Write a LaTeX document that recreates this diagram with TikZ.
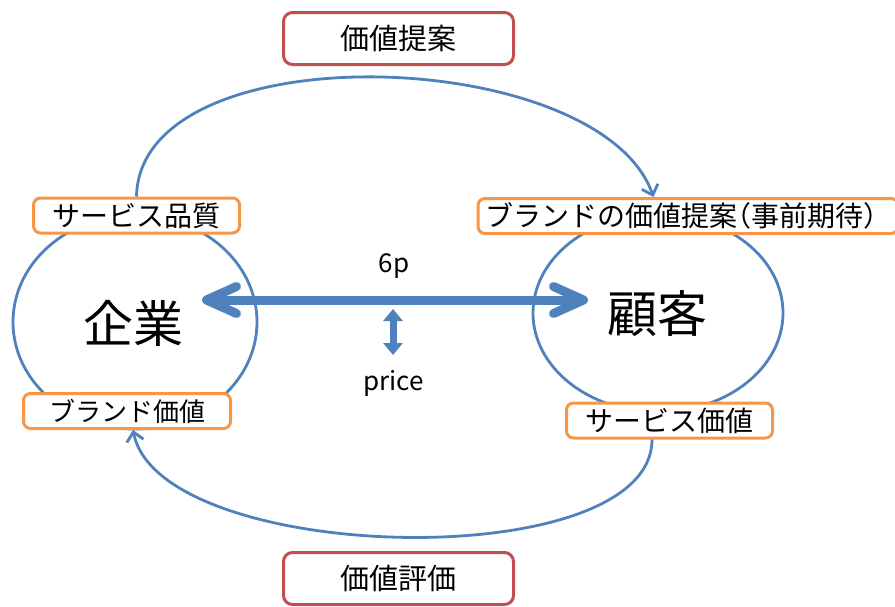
\documentclass[tikz,border=0pt]{standalone}
\usepackage{fontspec}
\setmainfont{Noto Sans CJK JP}
\usetikzlibrary{shapes.geometric,arrows.meta,calc}
\definecolor{cblue}{HTML}{4F81BD}
\definecolor{corange}{HTML}{F79646}
\definecolor{cred}{HTML}{C0504D}
\begin{document}
\begin{tikzpicture}[x=1pt,y=-1pt,
  obox/.style={draw=corange, line width=3pt, rounded corners=7pt, fill=white,
    inner sep=0pt, font=\fontsize{28}{32}\selectfont, minimum height=35pt},
  rbox/.style={draw=cred, line width=3pt, rounded corners=9pt, fill=white,
    inner sep=0pt, font=\fontsize{29}{33}\selectfont, minimum width=230pt, minimum height=52pt},
  party/.style={draw=cblue, line width=2.8pt, ellipse, inner sep=0pt,
    font=\fontsize{50}{56}\selectfont},
  flow/.style={draw=cblue, line width=2.8pt, -{Straight Barb[length=9pt,width=17pt]}},
  bigarrow/.style={draw=cblue, line width=9pt,
    {Straight Barb[length=30pt,width=27pt,line cap=round,line join=round]}-{Straight Barb[length=30pt,width=27pt,line cap=round,line join=round]}},
  smallarrow/.style={draw=cblue, line width=7pt,
    {Triangle[length=12pt,width=19pt]}-{Triangle[length=12pt,width=19pt]}},
  lbl/.style={font=\fontsize{26}{30}\selectfont, inner sep=0pt}
]
\useasboundingbox (0,0) rectangle (895,606);

% parties
\node[party, minimum width=244pt, minimum height=214pt] (L) at (135,322) {};
\node[party, minimum width=250pt, minimum height=198pt] (R) at (658,313) {};
\node[font=\fontsize{50}{56}\selectfont, inner sep=0pt] (Lt) at (133,323) {企業};
\node[font=\fontsize{50}{56}\selectfont, inner sep=0pt] (Rt) at (657,314) {顧客};

% boxes
\node[obox, minimum width=206pt] (A) at (136.5,215.5) {サービス品質};
\node[obox, minimum width=207pt, font=\fontsize{26}{30}\selectfont] (B) at (127,411) {ブランド価値};
\node[obox, minimum width=420pt] (C) at (688,216) {ブランドの価値提案\hspace{-14pt}（事前期待）\hspace{-14pt}};
\node[obox, minimum width=206pt] (D) at (669.5,420.5) {サービス価値};
\node[rbox] (T) at (398.5,38.5) {価値提案};
\node[rbox] (E) at (398.5,578.5) {価値評価};

% flows
\draw[flow] (A.north) .. controls (140,30) and (600,45) .. ([xshift=-34.5pt]C.north);
\draw[flow] ([xshift=-17.5pt]D.south) .. controls (652,577) and (160,565) .. ([xshift=6pt]B.south);

% central arrows
\coordinate (mL) at (202,300);
\coordinate (mR) at (588,300);
\draw[bigarrow] (mL) -- (mR);
\node[lbl] (six) at (394,266) {6p};
\node[lbl] (price) at (393.5,383) {price};
\coordinate (pa) at (393,309);
\coordinate (pb) at (393,355);
\draw[smallarrow] (pa) -- (pb);
\end{tikzpicture}
\end{document}
